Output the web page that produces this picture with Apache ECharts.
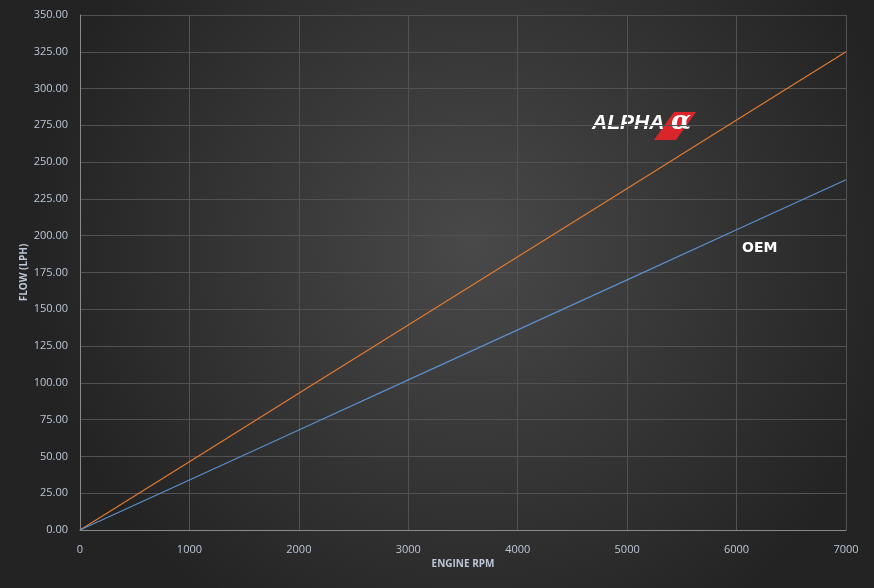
<!DOCTYPE html>
<html><head><meta charset="utf-8">
<script src="https://cdn.jsdelivr.net/npm/echarts@6/dist/echarts.min.js"></script>
<style>html,body{margin:0;padding:0;background:#262626}#c{width:874px;height:588px}</style>
</head><body><div id="c"></div>
<script>
const rpm = [0, 1000, 2000, 3000, 4000, 5000, 6000, 7000];
const alphaFlow = [0, 46.4, 92.9, 139.3, 185.7, 232.1, 278.6, 325];
const oemFlow = [0, 34.0, 68.0, 102.0, 136.0, 170.0, 204.0, 238.0];
const yTicks = [0, 350, 25];
const xTicks = [0, 7000, 1000];

const chart = echarts.init(document.getElementById('c'));
const lbl = {color: '#bcc6d6', fontFamily: 'Open Sans, DejaVu Sans, sans-serif', fontSize: 11};
chart.setOption({
  backgroundColor: {type: 'radial', x: 0.54, y: 0.42, r: 0.75,
    colorStops: [{offset: 0, color: '#494949'}, {offset: 1, color: '#232323'}]},
  animation: false,
  grid: {left: 80, right: 28, top: 15, bottom: 58},
  xAxis: {type: 'value', min: xTicks[0], max: xTicks[1], interval: xTicks[2],
    name: 'ENGINE RPM', nameLocation: 'middle', nameGap: 29, nameMoveOverlap: false,
    nameTextStyle: {color: '#bcc6d6', fontWeight: 'bold', fontSize: 10, fontFamily: 'Open Sans, sans-serif'},
    axisLine: {lineStyle: {color: '#8a8a8a', width: 1}}, axisTick: {show: false},
    axisLabel: Object.assign({margin: 14, formatter: v => String(v)}, lbl),
    splitLine: {lineStyle: {color: '#525252', width: 1}}},
  yAxis: {type: 'value', min: yTicks[0], max: yTicks[1], interval: yTicks[2],
    name: 'FLOW (LPH)', nameLocation: 'middle', nameGap: 56, nameMoveOverlap: false,
    nameTextStyle: {color: '#bcc6d6', fontWeight: 'bold', fontSize: 10, fontFamily: 'Open Sans, sans-serif', verticalAlign: 'middle'},
    axisLine: {show: true, lineStyle: {color: '#8a8a8a', width: 1}}, axisTick: {show: false},
    axisLabel: Object.assign({margin: 12, formatter: v => v.toFixed(2)}, lbl),
    splitLine: {lineStyle: {color: '#525252', width: 1}}},
  series: [
    {type: 'line', name: 'ALPHA', data: rpm.map((x, i) => [x, alphaFlow[i]]), showSymbol: false,
     lineStyle: {color: '#e07a32', width: 1.2}},
    {type: 'line', name: 'OEM', data: rpm.map((x, i) => [x, oemFlow[i]]), showSymbol: false,
     lineStyle: {color: '#5b8fcc', width: 1.2}}
  ],
  graphic: [
    {type: 'polygon', shape: {points: [[674,112],[696,112],[676,140],[654,140]]}, style: {fill: '#d8262a'}},
    {type: 'text', left: 592, top: 113, style: {text: 'ALPHA', fill: '#ffffff', font: 'italic bold 21px "Liberation Sans", sans-serif'}},
    {type: 'text', left: 671, top: 109, style: {text: 'α', fill: '#ffffff', font: 'italic bold 26px "DejaVu Serif", serif'}},
    {type: 'text', left: 742, top: 241, style: {text: 'OEM', fill: '#ffffff', font: 'bold 14px "DejaVu Sans", sans-serif'}}
  ]
});
</script></body></html>
